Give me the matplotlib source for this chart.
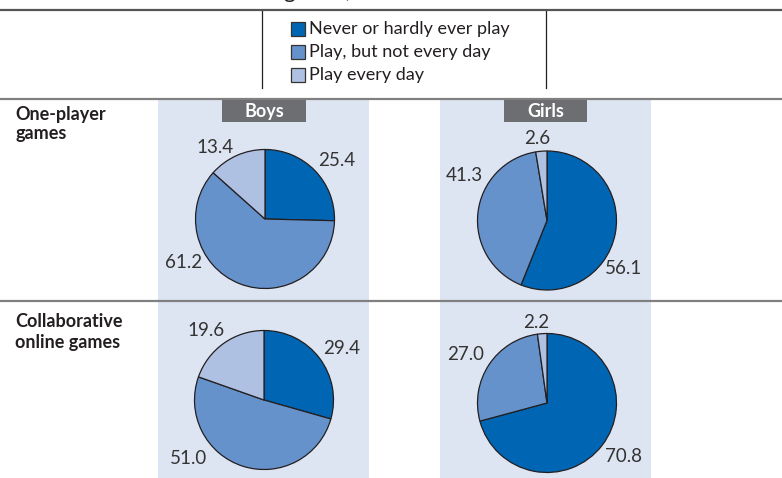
import numpy as np
import matplotlib.pyplot as plt

# data
categories = ["Never or hardly ever play", "Play, but not every day", "Play every day"]
groups = ["Boys", "Girls"]
rows = ["One-player\ngames", "Collaborative\nonline games"]
one_player = {"Boys": [25.4, 61.2, 13.4], "Girls": [56.1, 41.3, 2.6]}
collaborative = {"Boys": [29.4, 51.0, 19.6], "Girls": [70.8, 27.0, 2.2]}
row_values = [one_player, collaborative]

# style
colors = ["#0066B3", "#6692CC", "#AFC1E2"]
panel_col = "#DEE5F2"
head_col = "#6D6E71"
txt_col = "#231F20"
W, H = 782, 478
plt.rcParams['font.family'] = ['Lato', 'DejaVu Sans']

fig = plt.figure(figsize=(W / 100, H / 100), dpi=100)
ax = fig.add_axes([0, 0, 1, 1])

def Y(py):
    return H - py

# panels behind the pies
panel_x = {"Boys": (158, 369), "Girls": (440, 651)}
for g in groups:
    x0, x1 = panel_x[g]
    ax.add_patch(plt.Rectangle((x0, Y(H)), x1 - x0, H - 99, color=panel_col, lw=0, zorder=0))

# header boxes
head_x = {"Boys": (222, 306), "Girls": (504, 587)}
for g in groups:
    x0, x1 = head_x[g]
    ax.add_patch(plt.Rectangle((x0, Y(122)), x1 - x0, 22, color=head_col, lw=0, zorder=1))
    ax.text((x0 + x1) / 2, Y(111.5), g, color="white", fontsize=13, fontweight="bold",
            ha="center", va="center", zorder=2)

# rules
ax.plot([0, W], [Y(10), Y(10)], color="#555555", lw=1.6, zorder=3)
ax.plot([0, W], [Y(99), Y(99)], color="#808080", lw=1.6, zorder=3)
ax.plot([0, W], [Y(300.5), Y(300.5)], color="#808080", lw=1.6, zorder=3)
ax.plot([262, 262], [Y(10), Y(88)], color=txt_col, lw=0.9)
ax.plot([546, 546], [Y(10), Y(88)], color=txt_col, lw=0.9)

# clipped title, only descenders show
ax.text(283, Y(-2), "games,", fontsize=16, color=txt_col, ha="left", va="baseline")

# legend
for i, (c, lab) in enumerate(zip(colors, categories)):
    yc = 28.5 + i * 23
    ax.add_patch(plt.Rectangle((291, Y(yc + 7)), 14, 14, facecolor=c, edgecolor="#333333", lw=0.9))
    ax.text(309, Y(yc), lab, fontsize=13, color=txt_col, ha="left", va="center")

# row labels
ax.text(15, Y(124), rows[0], fontsize=13, fontweight="bold", color=txt_col,
        ha="left", va="center", linespacing=1.1)
ax.text(15, Y(332), rows[1], fontsize=13, fontweight="bold", color=txt_col,
        ha="left", va="center", linespacing=1.25)

# pies
centers = {(0, "Boys"): (265, 219), (0, "Girls"): (547, 220.5),
           (1, "Boys"): (264, 400), (1, "Girls"): (547, 403)}
R = 69.5
label_off = {(0, "Boys"): [(72, -59), (-81, 44), (-50, -72)],
             (0, "Girls"): [(77, 48), (-83, -45), (-10, -82)],
             (1, "Boys"): [(78, -52), (-75, 58), (-58, -69)],
             (1, "Girls"): [(76, 54), (-81, -48), (-11, -81)]}
for r, vals in enumerate(row_values):
    for g in groups:
        cx, cy = centers[(r, g)]
        ax.pie(vals[g], colors=colors, startangle=90, counterclock=False,
               center=(cx, Y(cy)), radius=R, frame=True,
               wedgeprops=dict(edgecolor=txt_col, linewidth=0.9))
        for v, (dx, dy) in zip(vals[g], label_off[(r, g)]):
            ax.text(cx + dx, Y(cy + dy), f"{v:.1f}", fontsize=13.5, color="#333333",
                    ha="center", va="center")

ax.set_xlim(0, W)
ax.set_ylim(0, H)
ax.set_aspect("auto")
ax.axis("off")
fig.savefig("out.png", dpi=100)
